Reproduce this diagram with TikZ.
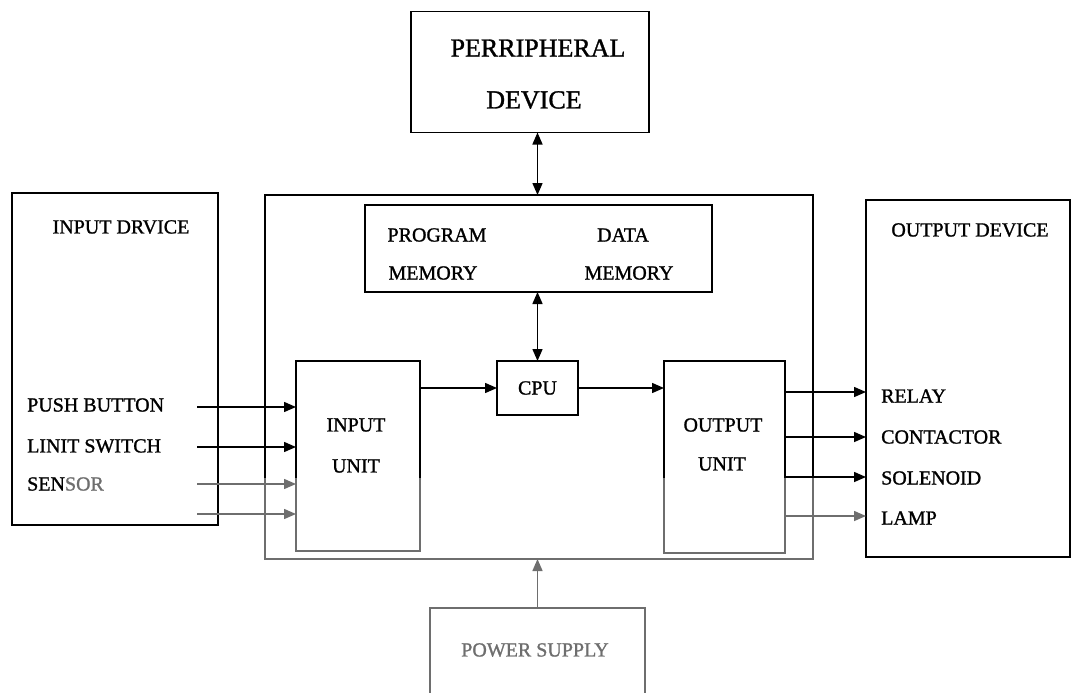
\documentclass[tikz,border=0pt]{standalone}
\usepackage{fontspec}
\setmainfont{Liberation Serif}[FakeBold=1.2]
\usetikzlibrary{arrows.meta}
\definecolor{scan}{HTML}{6E6E6E}
\begin{document}
\begin{tikzpicture}[x=1pt,y=-1pt,
  box/.style={draw=none, inner sep=0pt, outer sep=0pt},
  lbl/.style={font=\fontsize{20}{24}\selectfont, inner sep=0pt},
  big/.style={font=\fontsize{26}{30}\selectfont, inner sep=0pt},
  edge/.style={line width=1.5pt},
  conn/.style={line width=1.5pt, -{Triangle[length=12pt,width=10pt]}},
  both/.style={line width=1.5pt, {Triangle[length=12pt,width=10pt]}-{Triangle[length=12pt,width=10pt]}}
]
\useasboundingbox (0,0) rectangle (1071,693);
\clip (0,0) rectangle (1071,693);

% boxes
\node[box, minimum width=238pt, minimum height=121pt] (periph) at (530,72) {};
\node[box, minimum width=548pt, minimum height=364pt] (main) at (539,377) {};
\node[box, minimum width=347pt, minimum height=87pt] (mem) at (538.5,248.5) {};
\node[box, minimum width=81pt, minimum height=54pt] (cpu) at (537.5,388) {};
\node[box, minimum width=124pt, minimum height=190pt] (inunit) at (358,456) {};
\node[box, minimum width=121pt, minimum height=192pt] (outunit) at (724.5,457) {};
\node[box, minimum width=206pt, minimum height=332pt] (indev) at (115,359) {};
\node[box, minimum width=204pt, minimum height=357pt] (outdev) at (968,378.5) {};
\node[box, minimum width=215pt, minimum height=104pt] (power) at (537.5,660) {};

% outlines (upper part black)
\begin{scope}
\clip (0,0) rectangle (1071,478);
\foreach \n in {main,inunit,outunit}
  \draw[edge] (\n.north west) rectangle (\n.south east);
\end{scope}
% outlines (lower part grey, under the watermark)
\begin{scope}
\clip (0,478) rectangle (1071,693);
\foreach \n in {main,inunit,outunit}
  \draw[edge, draw=scan] (\n.north west) rectangle (\n.south east);
\end{scope}
\foreach \n in {periph,mem,cpu,indev,outdev}
  \draw[edge] (\n.north west) rectangle (\n.south east);
\draw[edge, draw=scan] (power.north west) rectangle (power.south east);

% texts
\node[big] (tp1) at (538,48) {PERRIPHERAL};
\node[big] (tp2) at (534,100) {DEVICE};
\node[lbl] (tid) at (121,227) {INPUT DRVICE};
\node[lbl] (tod) at (970,230) {OUTPUT DEVICE};
\node[lbl] (tm1) at (437,235) {PROGRAM};
\node[lbl] (tm2) at (623,235) {DATA};
\node[lbl] (tm3) at (433,273) {MEMORY};
\node[lbl] (tm4) at (629,273) {MEMORY};
\node[lbl] (tcpu) at (537.5,388) {CPU};
\node[lbl] (tiu1) at (356,425) {INPUT};
\node[lbl] (tiu2) at (356,466) {UNIT};
\node[lbl] (tou1) at (723,425) {OUTPUT};
\node[lbl] (tou2) at (722,464) {UNIT};
\node[lbl, anchor=west] (tpb) at (27,405) {PUSH BUTTON};
\node[lbl, anchor=west] (tls) at (27,446) {LINIT SWITCH};
\node[lbl, anchor=west] (tse) at (27,484) {SEN\textcolor{scan}{SOR}};
\node[lbl, anchor=west] (tre) at (881,396) {RELAY};
\node[lbl, anchor=west] (tco) at (881,437) {CONTACTOR};
\node[lbl, anchor=west] (tso) at (881,478) {SOLENOID};
\node[lbl, anchor=west] (tla) at (881,518) {LAMP};
\node[lbl, text=scan] (tps) at (535,650) {POWER SUPPLY};

% connectors
\draw[both] (periph.south -| cpu.north) -- (main.north -| cpu.north);
\draw[both] (mem.south -| cpu.north) -- (cpu.north);
\draw[conn] (inunit.east |- cpu.west) -- (cpu.west);
\draw[conn] (cpu.east) -- (outunit.west |- cpu.east);

\coordinate (i1) at (197,407);
\coordinate (i2) at (197,447);
\coordinate (i3) at (197,484);
\coordinate (i4) at (197,514);
\draw[conn] (i1) -- (i1 -| inunit.west);
\draw[conn] (i2) -- (i2 -| inunit.west);
\draw[conn, draw=scan, fill=scan] (i3) -- (i3 -| inunit.west);
\draw[conn, draw=scan, fill=scan] (i4) -- (i4 -| inunit.west);

\coordinate (o1) at (outunit.east |- 0,392);
\coordinate (o2) at (outunit.east |- 0,437);
\coordinate (o3) at (outunit.east |- 0,477);
\coordinate (o4) at (outunit.east |- 0,516);
\draw[conn] (o1) -- (o1 -| outdev.west);
\draw[conn] (o2) -- (o2 -| outdev.west);
\draw[conn] (o3) -- (o3 -| outdev.west);
\draw[conn, draw=scan, fill=scan] (o4) -- (o4 -| outdev.west);

\draw[conn, draw=scan, fill=scan] (power.north -| cpu.south) -- (main.south -| cpu.south);
\end{tikzpicture}
\end{document}
